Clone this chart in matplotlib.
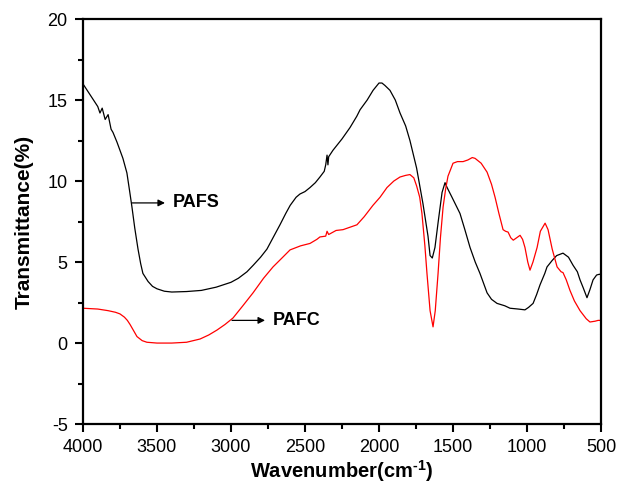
import matplotlib
matplotlib.use("Agg")
import matplotlib.pyplot as plt

# PAFS (black) spectrum
pafs_wn = [4000, 3950, 3900, 3885, 3870, 3850, 3830, 3810, 3797, 3770, 3750, 3730,
           3703, 3685, 3669, 3650, 3628, 3610, 3595, 3560, 3530, 3500, 3450, 3400,
           3300, 3200, 3100, 3000, 2950, 2892, 2850, 2800, 2757, 2716, 2669, 2630,
           2600, 2560, 2534, 2500, 2466, 2430, 2399, 2370, 2360, 2351, 2345, 2340,
           2311, 2250, 2196, 2150, 2128, 2080, 2040, 2000, 1980, 1960, 1926, 1890,
           1858, 1820, 1791, 1746, 1703, 1669, 1655, 1640, 1622, 1600, 1574, 1554,
           1540, 1507, 1480, 1453, 1420, 1385, 1350, 1318, 1290, 1270, 1240, 1203,
           1150, 1115, 1060, 1014, 990, 959, 935, 912, 880, 865, 830, 800, 757, 720,
           689, 660, 642, 620, 595, 575, 554, 530, 510, 500]
pafs_t = [16.0, 15.3, 14.6, 14.2, 14.5, 13.8, 14.1, 13.2, 13.0, 12.4, 11.9, 11.4,
          10.5, 9.4, 8.4, 7.1, 5.8, 4.9, 4.3, 3.8, 3.5, 3.35, 3.2, 3.15,
          3.18, 3.25, 3.45, 3.75, 4.0, 4.4, 4.8, 5.3, 5.8, 6.5, 7.3, 8.0,
          8.5, 9.0, 9.2, 9.35, 9.6, 9.9, 10.25, 10.6, 11.0, 11.6, 11.0, 11.5,
          11.9, 12.6, 13.3, 14.0, 14.4, 15.0, 15.6, 16.05, 16.05, 15.9, 15.6, 15.0,
          14.2, 13.4, 12.5, 10.8, 8.6, 6.6, 5.4, 5.25, 5.9, 7.5, 9.3, 9.9,
          9.6, 9.0, 8.5, 8.0, 7.0, 5.9, 5.0, 4.3, 3.6, 3.1, 2.7, 2.45,
          2.3, 2.15, 2.1, 2.05, 2.2, 2.45, 3.0, 3.6, 4.3, 4.7, 5.1, 5.4, 5.55, 5.3,
          4.8, 4.4, 3.9, 3.4, 2.8, 3.3, 3.9, 4.2, 4.25, 4.2]

# PAFC (red) spectrum
pafc_wn = [4000, 3900, 3830, 3780, 3750, 3720, 3700, 3682, 3660, 3635, 3600, 3568,
           3500, 3400, 3300, 3209, 3150, 3095, 3040, 2986, 2920, 2851, 2780, 2716,
           2650, 2601, 2530, 2466, 2420, 2399, 2360, 2351, 2340, 2290, 2243, 2149,
           2100, 2041, 1993, 1946, 1900, 1858, 1820, 1791, 1765, 1746, 1725, 1710,
           1690, 1676, 1655, 1635, 1620, 1601, 1585, 1567, 1550, 1534, 1500, 1470,
           1432, 1400, 1370, 1351, 1310, 1270, 1240, 1216, 1190, 1162, 1145, 1128,
           1110, 1093, 1070, 1047, 1030, 1014, 995, 980, 960, 932, 910, 878, 858,
           830, 797, 770, 757, 735, 710, 680, 642, 600, 575, 540, 520, 500]
pafc_t = [2.15, 2.1, 2.0, 1.9, 1.8, 1.6, 1.4, 1.15, 0.8, 0.4, 0.15, 0.05,
          0.0, 0.0, 0.05, 0.25, 0.5, 0.8, 1.15, 1.55, 2.3, 3.1, 4.0, 4.7,
          5.3, 5.75, 6.0, 6.15, 6.4, 6.55, 6.6, 6.9, 6.7, 6.95, 7.0, 7.3,
          7.8, 8.5, 9.0, 9.6, 10.0, 10.25, 10.35, 10.4, 10.2, 9.7, 9.0, 8.0,
          6.0, 4.3, 2.0, 1.0, 2.0, 4.3, 6.5, 8.4, 9.5, 10.3, 11.1, 11.2,
          11.2, 11.3, 11.45, 11.4, 11.1, 10.55, 9.8, 9.0, 8.0, 7.0, 6.9, 6.85,
          6.5, 6.35, 6.5, 6.65, 6.4, 5.9, 5.0, 4.5, 5.0, 5.9, 6.9, 7.4, 7.0,
          5.8, 4.7, 4.4, 4.35, 3.9, 3.25, 2.6, 2.0, 1.5, 1.3, 1.35, 1.4, 1.4]

labels = ["PAFS", "PAFC"]
arrow_tails = [(3669, 8.65), (2993, 1.4)]
arrow_heads = [(3446, 8.65), (2770, 1.4)]

plt.rcParams['font.family'] = ['Liberation Sans', 'DejaVu Sans']
plt.rcParams['axes.unicode_minus'] = False
plt.rcParams['mathtext.fontset'] = 'custom'
plt.rcParams['mathtext.rm'] = 'Liberation Sans:bold'
plt.rcParams['mathtext.bf'] = 'Liberation Sans:bold'

fig = plt.figure(figsize=(6.19, 4.88), dpi=100)
ax = fig.add_axes([0.134, 0.131, 0.837, 0.830])

ax.plot(pafs_wn, pafs_t, color='black', lw=0.9)
ax.plot(pafc_wn, pafc_t, color='red', lw=0.9)

for lab, tail, head in zip(labels, arrow_tails, arrow_heads):
    ax.annotate('', xy=head, xytext=tail,
                arrowprops=dict(arrowstyle='-|>', color='black', lw=0.9,
                                mutation_scale=10, shrinkA=0, shrinkB=0))
    ax.text(head[0] - 55, head[1], lab, fontsize=13, fontweight='bold',
            ha='left', va='center')

ax.set_xlim(4000, 500)
ax.set_ylim(-5, 20)
ax.set_xticks([4000, 3500, 3000, 2500, 2000, 1500, 1000, 500])
ax.set_xticks([3750, 3250, 2750, 2250, 1750, 1250, 750], minor=True)
ax.set_yticks([-5, 0, 5, 10, 15, 20])
ax.set_yticks([-2.5, 2.5, 7.5, 12.5, 17.5], minor=True)
ax.tick_params(which='major', length=6, width=1.5, labelsize=13, direction='out', pad=5)
ax.tick_params(which='minor', length=3.5, width=1.5, direction='out')
for sp in ax.spines.values():
    sp.set_linewidth(1.6)

ax.set_xlabel('Wavenumber(cm$^{\\text{-1}}$)', fontsize=14.5, fontweight='bold', labelpad=1)
ax.set_ylabel('Transmittance(%)', fontsize=15, fontweight='bold', labelpad=10)

fig.savefig('out.png', dpi=100)
